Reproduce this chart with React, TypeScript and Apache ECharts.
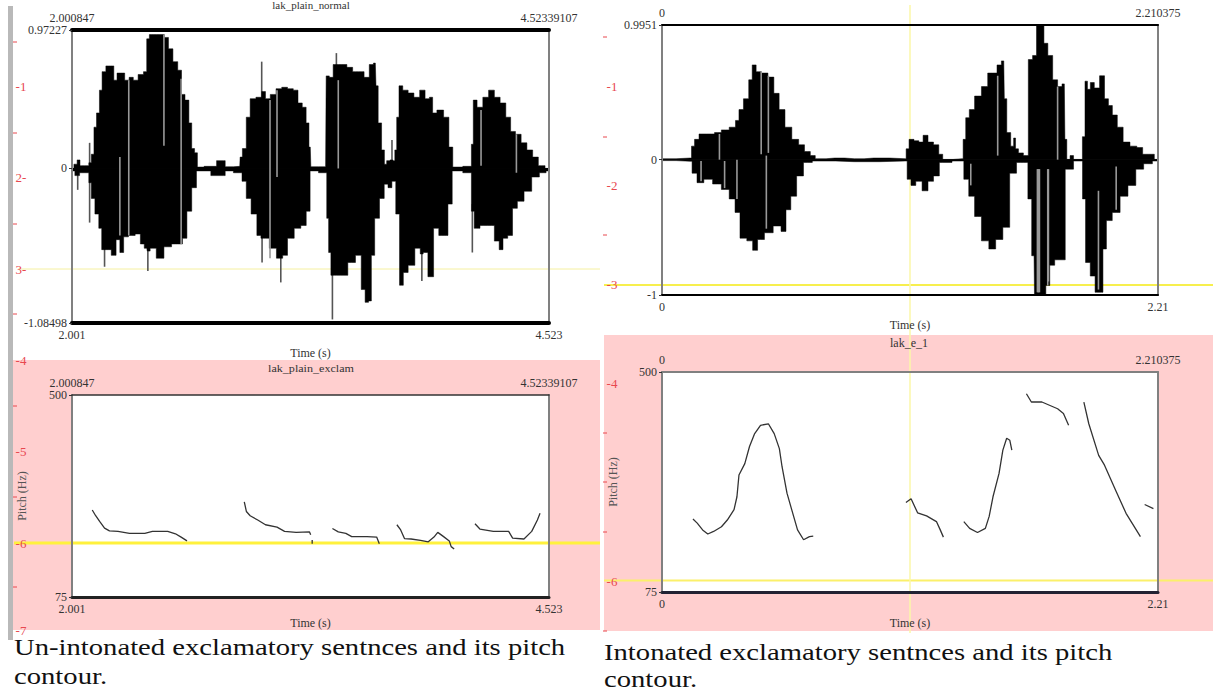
import React, { useEffect, useRef } from "react";
import * as echarts from "echarts";

type P = [number, number];
type S = [number, number, number];

const leftUpper: P[] = [[2.001,0],[2.021,.03],[2.035,.06],[2.051,.02],[2.086,.02],[2.094,.04],[2.112,.1],[2.122,.29],[2.139,.39],[2.153,.55],[2.167,.68],[2.193,.72],[2.214,.72],[2.23,.62],[2.248,.67],[2.268,.67],[2.291,.62],[2.315,.64],[2.335,.62],[2.366,.66],[2.392,.68],[2.4,.91],[2.42,.94],[2.447,.94],[2.477,.94],[2.501,.92],[2.521,.84],[2.548,.75],[2.572,.69],[2.588,.52],[2.609,.48],[2.629,.32],[2.639,.14],[2.659,.11],[2.669,.01],[2.73,.015],[2.801,.055],[2.821,.012],[2.888,.015],[2.892,.08],[2.912,.14],[2.933,.36],[2.953,.49],[2.994,.5],[3.014,.54],[3.034,.49],[3.065,.52],[3.095,.56],[3.125,.57],[3.156,.56],[3.186,.55],[3.206,.46],[3.231,.43],[3.247,.32],[3.261,.15],[3.267,.012],[3.342,.012],[3.348,.65],[3.375,.64],[3.389,.73],[3.409,.73],[3.439,.73],[3.47,.71],[3.5,.68],[3.53,.68],[3.561,.64],[3.585,.73],[3.605,.74],[3.612,.58],[3.628,.32],[3.648,.13],[3.658,.03],[3.672,.055],[3.693,.06],[3.703,.055],[3.713,.13],[3.723,.36],[3.737,.58],[3.763,.55],[3.794,.53],[3.824,.5],[3.855,.55],[3.881,.49],[3.901,.5],[3.915,.39],[3.946,.41],[3.986,.36],[4.002,.15],[4.027,.01],[4.108,.015],[4.118,.17],[4.128,.48],[4.158,.43],[4.189,.5],[4.219,.55],[4.25,.5],[4.28,.46],[4.31,.36],[4.331,.26],[4.361,.24],[4.391,.18],[4.422,.13],[4.452,.08],[4.482,.02],[4.523,0]];
const leftLower: P[] = [[2.001,-.017],[2.031,-.05],[2.051,-.03],[2.086,-.03],[2.094,-.1],[2.112,-.21],[2.132,-.32],[2.153,-.42],[2.163,-.57],[2.173,-.57],[2.193,-.57],[2.224,-.61],[2.244,-.5],[2.264,-.59],[2.284,-.48],[2.315,-.47],[2.355,-.46],[2.37,-.53],[2.396,-.56],[2.402,-.58],[2.426,-.56],[2.467,-.63],[2.507,-.55],[2.548,-.53],[2.572,-.53],[2.598,-.49],[2.619,-.3],[2.649,-.135],[2.669,-.017],[2.801,-.05],[2.821,-.017],[2.888,-.03],[2.912,-.09],[2.933,-.21],[2.963,-.32],[2.994,-.47],[3.006,-.49],[3.024,-.49],[3.065,-.56],[3.099,-.63],[3.105,-.63],[3.125,-.61],[3.156,-.49],[3.196,-.42],[3.226,-.4],[3.253,-.3],[3.267,-.017],[3.342,-.03],[3.354,-.35],[3.362,-.59],[3.378,-.75],[3.399,-.75],[3.439,-.75],[3.48,-.66],[3.52,-.61],[3.541,-.85],[3.561,-.94],[3.577,-.93],[3.591,-.61],[3.612,-.35],[3.642,-.21],[3.662,-.11],[3.682,-.135],[3.703,-.09],[3.723,-.32],[3.743,-.82],[3.763,-.73],[3.794,-.68],[3.834,-.56],[3.851,-.6],[3.865,-.59],[3.901,-.76],[3.925,-.42],[3.956,-.47],[3.982,-.47],[3.996,-.25],[4.027,-.017],[4.108,-.03],[4.118,-.3],[4.138,-.42],[4.179,-.4],[4.219,-.4],[4.25,-.51],[4.27,-.57],[4.29,-.49],[4.32,-.47],[4.341,-.28],[4.371,-.23],[4.412,-.16],[4.452,-.06],[4.493,-.03],[4.523,-.017]];
const leftStripes: S[] = [[2.254,.08,-.47],[2.301,.62,-.47],[2.487,.94,.16],[3.048,.48,-.63],[3.085,.55,-.06],[3.409,.62,0],[2.578,.63,-.53],[4.164,.41,.02],[4.351,.24,-.03]];
const leftSpikes: S[] = [[2.031,0,-.15],[2.094,.18,-.38],[2.173,-.5,-.69],[2.402,-.5,-.72],[3.006,-.4,-.66],[3.105,-.55,-.8],[3.378,-.7,-1.06],[3.851,-.5,-.79],[4.118,-.25,-.59],[3.693,.2,.02],[3.004,.75,.48],[3.399,.81,.7]];

const rightUpper: P[] = [[0,.007],[.125,.012],[.138,.1],[.152,.15],[.178,.19],[.221,.19],[.247,.2],[.282,.22],[.317,.24],[.338,.29],[.348,.37],[.378,.45],[.395,.59],[.409,.7],[.43,.65],[.456,.64],[.488,.61],[.509,.49],[.535,.37],[.561,.24],[.596,.15],[.622,.11],[.648,.06],[.674,.03],[.692,.007],[.77,.012],[.857,.007],[.944,.012],[1.084,.007],[1.092,.08],[1.11,.15],[1.136,.14],[1.153,.13],[1.174,.18],[1.197,.13],[1.223,.11],[1.244,.04],[1.258,.002],[1.336,.007],[1.348,.15],[1.359,.31],[1.38,.37],[1.406,.47],[1.441,.54],[1.462,.64],[1.484,.64],[1.502,.7],[1.523,.73],[1.528,.45],[1.545,.2],[1.563,.1],[1.571,.16],[1.58,.08],[1.597,.05],[1.624,.03],[1.641,.74],[1.662,.77],[1.676,.99],[1.693,.99],[1.711,.86],[1.728,.77],[1.754,.59],[1.772,.54],[1.793,.56],[1.798,.15],[1.81,.002],[1.827,.03],[1.841,.002],[1.867,.002],[1.88,.17],[1.89,.58],[1.902,.52],[1.916,.57],[1.937,.53],[1.963,.62],[1.981,.45],[1.998,.4],[2.016,.33],[2.042,.24],[2.068,.13],[2.103,.1],[2.129,.09],[2.155,.04],[2.181,.04],[2.207,.002]];
const rightLower: P[] = [[0,-.007],[.125,-.012],[.143,-.1],[.169,-.17],[.204,-.145],[.247,-.18],[.282,-.22],[.317,-.29],[.334,-.39],[.361,-.58],[.395,-.6],[.413,-.67],[.439,-.59],[.474,-.54],[.517,-.49],[.544,-.53],[.561,-.37],[.587,-.27],[.613,-.12],[.648,-.02],[.692,-.01],[.857,-.015],[1.084,-.01],[1.101,-.145],[1.118,-.19],[1.144,-.16],[1.174,-.23],[1.197,-.16],[1.223,-.12],[1.249,-.02],[1.336,-.01],[1.354,-.145],[1.38,-.27],[1.406,-.42],[1.441,-.6],[1.472,-.66],[1.502,-.59],[1.536,-.5],[1.563,-.1],[1.597,-.02],[1.624,-.02],[1.637,-.29],[1.658,-.71],[1.662,-1],[1.702,-1],[1.719,-.93],[1.737,-.78],[1.763,-.74],[1.793,-.74],[1.801,-.07],[1.867,-.01],[1.881,-.29],[1.894,-.76],[1.923,-.86],[1.937,-.98],[1.958,-.98],[1.972,-.66],[1.989,-.45],[2.024,-.39],[2.059,-.27],[2.094,-.19],[2.129,-.07],[2.164,-.03],[2.207,-.01]];
const rightStripes: S[] = [[.174,-.01,-.16],[.256,.19,0],[.279,-.01,-.21],[.334,0,-.29],[.442,.65,.04],[.474,.62,.05],[.465,.03,-.51],[1.496,.62,.03],[1.376,-.03,-.19],[1.673,-.07,-.98],[1.676,-.07,-.98],[1.679,-.07,-.98],[1.682,-.07,-.98],[1.719,-.07,-.93],[1.722,-.07,-.9],[1.763,.54,0],[1.945,-.23,-.96],[2.024,-.05,-.37]];

const leftPitch: P[][] = [
  [[2.108,258],[2.126,246],[2.147,234],[2.173,220],[2.199,214],[2.244,213],[2.305,209],[2.386,209],[2.426,213],[2.507,213],[2.548,208],[2.578,201],[2.609,193]],
  [[2.912,275],[2.923,255],[2.943,246],[2.983,237],[3.024,227],[3.085,222],[3.125,213],[3.186,211],[3.257,212],[3.263,206]],
  [[3.271,195],[3.271,187]],
  [[3.378,219],[3.409,212],[3.449,209],[3.48,202],[3.561,202],[3.612,201],[3.626,187]],
  [[3.719,227],[3.739,216],[3.759,198],[3.794,197],[3.844,194],[3.885,191],[3.915,201],[3.935,211],[3.966,202],[3.996,193],[4.006,181],[4.022,176]],
  [[4.132,229],[4.158,218],[4.229,213],[4.31,213],[4.331,199],[4.391,197],[4.432,213],[4.462,237],[4.476,251]],
];
const rightPitch: P[][] = [
  [[.138,216],[.157,208],[.181,195],[.204,187],[.23,192],[.265,201],[.291,214],[.321,234],[.334,259],[.343,301],[.369,323],[.39,356],[.413,381],[.439,397],[.474,400],[.5,381],[.523,352],[.535,317],[.557,266],[.578,234],[.604,195],[.631,176],[.657,182],[.674,183]],
  [[1.087,248],[1.11,255],[1.139,228],[1.179,222],[1.223,211],[1.24,195],[1.254,181]],
  [[1.345,211],[1.371,198],[1.406,190],[1.441,198],[1.458,221],[1.475,259],[1.502,304],[1.519,349],[1.536,372],[1.55,368],[1.559,349]],
  [[1.624,458],[1.646,442],[1.693,442],[1.763,429],[1.789,420],[1.812,397]],
  [[1.88,442],[1.902,400],[1.946,339],[1.972,320],[2.024,269],[2.068,227],[2.132,182]],
  [[2.151,244],[2.19,236]],
];

const leftTimeRange: P = [2.000847, 4.52339107];
const rightTimeRange: P = [0, 2.210375];
const leftAmpRange: P = [-1.08498, 0.97227];
const rightAmpRange: P = [-1, 0.9951];
const pitchRange: P = [75, 500];

const leftTopLabels = ["2.000847", "4.52339107"];
const leftBottomLabels = ["2.001", "4.523"];
const rightTopLabels = ["0", "2.210375"];
const rightBottomLabels = ["0", "2.21"];
const leftAmpTicks = [-1.08498, 0, 0.97227];
const rightAmpTicks = [-1, 0, 0.9951];
const leftAmpLabels = ["-1.08498", "0", "0.97227"];
const rightAmpLabels = ["-1", "0", "0.9951"];
const pitchTicks = [75, 500];
const pitchLabels = ["75", "500"];

const captionLeft = ["Un-intonated exclamatory sentnces and its pitch", "contour."];
const captionRight = ["Intonated exclamatory sentnces and its pitch", "contour."];
const SERIF = '"Liberation Serif", "Times New Roman", serif';
const BLACK = "#000";
const GRAY = "#808080";
const RED = "#e8484f";

const grids = [
  { left: 72, top: 30, width: 477, height: 293 },
  { left: 72, top: 395, width: 477, height: 202 },
  { left: 662, top: 25, width: 496, height: 270 },
  { left: 662, top: 372, width: 496, height: 220 },
];

function labelFor(values: number[], labels: string[]) {
  return (v: number) => {
    let best = 0;
    values.forEach((c, i) => { if (Math.abs(c - v) < Math.abs(values[best] - v)) best = i; });
    return labels[best];
  };
}

function xAx(i: number, pos: string, range: P, labels: string[], color: string, width: number, name?: string, nameGap?: number) {
  return {
    type: "value", gridIndex: i, position: pos, min: range[0], max: range[1], z: 5,
    name, nameLocation: "middle", nameGap,
    nameTextStyle: { fontFamily: SERIF, fontSize: 12, color: "#333" },
    axisLine: { show: true, onZero: false, lineStyle: { color, width } },
    axisTick: { show: false },
    splitLine: { show: false },
    axisLabel: {
      show: true, customValues: range, margin: 6, fontFamily: SERIF, fontSize: 12, color: "#333",
      formatter: labelFor(range, labels),
    },
  };
}
function yAx(i: number, pos: string, range: P, values: number[] | null, labels: string[], name?: string, nameGap = 44) {
  return {
    type: "value", gridIndex: i, position: pos, min: range[0], max: range[1], z: 5,
    name, nameLocation: "middle", nameGap, nameRotate: 90,
    nameTextStyle: { fontFamily: SERIF, fontSize: 12, color: "#555" },
    axisLine: { show: true, onZero: false, lineStyle: { color: GRAY, width: 2 } },
    axisTick: values ? { show: true, length: 3, customValues: values, lineStyle: { color: "#333" } } : { show: false },
    splitLine: { show: false },
    axisLabel: values
      ? { show: true, customValues: values, margin: 5, fontFamily: SERIF, fontSize: 12, color: "#333", formatter: labelFor(values, labels) }
      : { show: false },
  };
}

function envelope(data: P[], i: number) {
  return {
    type: "line", data, xAxisIndex: i * 2, yAxisIndex: i * 2, symbol: "none", z: 3, step: "middle",
    lineStyle: { color: BLACK, width: 0.5 }, areaStyle: { color: BLACK, opacity: 1 },
  };
}
function baseline(range: P, i: number) {
  return {
    type: "line", data: [[range[0], 0], [range[1], 0]], xAxisIndex: i * 2, yAxisIndex: i * 2,
    symbol: "none", z: 3, lineStyle: { color: BLACK, width: 1 },
  };
}
function stripes(data: S[], i: number, stroke = "#999", z = 4) {
  return {
    type: "custom", data, xAxisIndex: i * 2, yAxisIndex: i * 2, z, silent: true,
    encode: { x: 0, y: [1, 2] },
    renderItem: (_: any, api: any) => {
      const a = api.coord([api.value(0), api.value(1)]);
      const b = api.coord([api.value(0), api.value(2)]);
      return {
        type: "line",
        shape: { x1: a[0], y1: a[1], x2: b[0], y2: b[1] },
        style: { stroke, lineWidth: 1.6 },
      };
    },
  };
}
function contour(data: P[], i: number) {
  return {
    type: "line", data, xAxisIndex: i * 2, yAxisIndex: i * 2, symbol: "none", z: 3,
    lineStyle: { color: "#333", width: 1.3 },
  };
}

function rect(x: number, y: number, w: number, h: number, fill: string, z = 0) {
  return { type: "rect", z, shape: { x, y, width: w, height: h }, style: { fill } };
}
function hline(x1: number, x2: number, y: number, stroke: string, lineWidth: number) {
  return { type: "line", z: 1, shape: { x1, y1: y, x2, y2: y }, style: { stroke, lineWidth } };
}
function txt(text: string, x: number, y: number, size: number, fill: string, align = "center", scaleX = 1) {
  return {
    type: "text", z: 6, x, y, scaleX,
    style: { text, fill, font: `${size}px ${SERIF}`, textAlign: align, textVerticalAlign: "middle" },
  };
}

const leftRuler: [string, number][] = [["-1", 86], ["2-", 177], ["3-", 269], ["-4", 360], ["-5", 451], ["-6", 543], ["-7", 630]];
const leftRulerTicks = [42, 133, 224, 314, 406, 497, 587];
const rightRuler: [string, number][] = [["-1", 86], ["-2", 185], ["-3", 284], ["-4", 383], ["-6", 581]];
const rightRulerTicks = [37, 137, 235, 433, 482, 532, 631];

export default function App() {
  const ref = useRef<HTMLDivElement>(null);
  useEffect(() => {
    const chart = echarts.init(ref.current!, null, { renderer: "svg" });
    const graphic: any[] = [
      rect(12, 360, 588, 270, "#ffcfcf"),
      rect(604, 335, 609, 296, "#ffcfcf"),
      ...grids.map((g) => rect(g.left, g.top, g.width, g.height, "#fff", 0.5)),
      rect(8, 6, 5, 634, "#b9b9b9", 1),
      hline(18, 600, 269, "#f5f0a0", 1),
      hline(14, 600, 543, "#fff13c", 3),
      hline(604, 1213, 285, "#f7ef4e", 2),
      hline(604, 1213, 580.5, "#fbf06a", 2),
      { type: "line", z: 1, shape: { x1: 910, y1: 5, x2: 910, y2: 633 }, style: { stroke: "#fbf7a8", lineWidth: 1.5 } },
      ...leftRuler.map(([t, y]) => txt(t, 21, y, 13, RED)),
      ...leftRulerTicks.map((y) => hline(13, 17, y, RED, 1)),
      ...rightRuler.map(([t, y]) => txt(t, 612, y, 13, RED)),
      ...rightRulerTicks.map((y) => hline(603, 607, y, RED, 1)),
      txt("lak_plain_normal", 311, 6, 10, "#333", "center", 1.1),
      txt("lak_plain_exclam", 311, 369, 11, "#333", "center", 1.1),
      txt("lak_e_1", 909, 343, 12, "#333"),
      txt(captionLeft[0], 14, 647, 23, "#111", "left", 1.246),
      txt(captionLeft[1], 14, 676, 23, "#111", "left", 1.246),
      txt(captionRight[0], 604, 652, 23, "#111", "left", 1.246),
      txt(captionRight[1], 604, 679, 23, "#111", "left", 1.246),
    ];
    chart.setOption({
      animation: false,
      backgroundColor: "#fff",
      grid: grids.map((g) => ({ ...g, containLabel: false })),
      graphic: { elements: graphic },
      xAxis: [
        xAx(0, "bottom", leftTimeRange, leftBottomLabels, BLACK, 4, "Time (s)", 24),
        xAx(0, "top", leftTimeRange, leftTopLabels, BLACK, 4),
        xAx(1, "bottom", leftTimeRange, leftBottomLabels, "#222", 3, "Time (s)", 20),
        xAx(1, "top", leftTimeRange, leftTopLabels, "#333", 1.5),
        xAx(2, "bottom", rightTimeRange, rightBottomLabels, BLACK, 2, "Time (s)", 24),
        xAx(2, "top", rightTimeRange, rightTopLabels, BLACK, 2),
        xAx(3, "bottom", rightTimeRange, rightBottomLabels, "#223", 3, "Time (s)", 25),
        xAx(3, "top", rightTimeRange, rightTopLabels, GRAY, 2),
      ],
      yAxis: [
        yAx(0, "left", leftAmpRange, leftAmpTicks, leftAmpLabels),
        yAx(0, "right", leftAmpRange, null, []),
        yAx(1, "left", pitchRange, pitchTicks, pitchLabels, "Pitch (Hz)", 44),
        yAx(1, "right", pitchRange, null, []),
        yAx(2, "left", rightAmpRange, rightAmpTicks, rightAmpLabels),
        yAx(2, "right", rightAmpRange, null, []),
        yAx(3, "left", pitchRange, pitchTicks, pitchLabels, "Pitch (Hz)", 43),
        yAx(3, "right", pitchRange, null, []),
      ],
      series: [
        envelope(leftUpper, 0), envelope(leftLower, 0), baseline(leftTimeRange, 0),
        stripes(leftSpikes, 0, "#555", 2), stripes(leftStripes, 0),
        ...leftPitch.map((s) => contour(s, 1)),
        envelope(rightUpper, 2), envelope(rightLower, 2), baseline(rightTimeRange, 2), stripes(rightStripes, 2),
        ...rightPitch.map((s) => contour(s, 3)),
      ],
    });
    return () => chart.dispose();
  }, []);
  return <div ref={ref} style={{ position: "fixed", left: 0, top: 0, width: 1213, height: 692 }} />;
}
